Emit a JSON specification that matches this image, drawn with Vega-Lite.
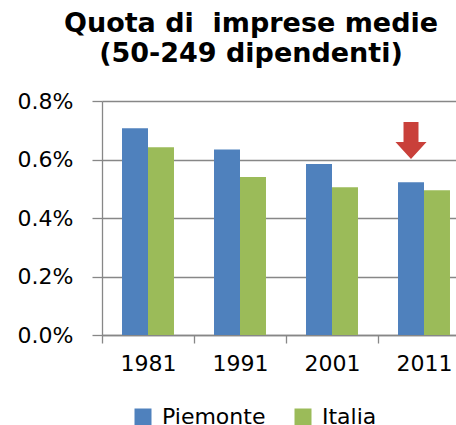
{
  "$schema": "https://vega.github.io/schema/vega-lite/v6.json",
  "autosize": "none",
  "width": 354,
  "height": 234,
  "padding": {"left": 102, "top": 101, "right": 0, "bottom": 90},
  "background": "white",
  "title": {
    "text": ["Quota di\u00a0 imprese medie", "(50-249 dipendenti)"],
    "font": "DejaVu Sans",
    "fontWeight": "bold",
    "fontSize": 27,
    "lineHeight": 30,
    "color": "#000000",
    "anchor": "middle",
    "dx": -28,
    "offset": 22
  },
  "config": {
    "view": {"stroke": null},
    "font": "DejaVu Sans"
  },
  "datasets": {
    "bars": [
      {"anno": "1981", "area": "Piemonte", "quota": 0.00707},
      {"anno": "1981", "area": "Italia", "quota": 0.00642},
      {"anno": "1991", "area": "Piemonte", "quota": 0.00634},
      {"anno": "1991", "area": "Italia", "quota": 0.0054},
      {"anno": "2001", "area": "Piemonte", "quota": 0.00585},
      {"anno": "2001", "area": "Italia", "quota": 0.00505},
      {"anno": "2011", "area": "Piemonte", "quota": 0.00522},
      {"anno": "2011", "area": "Italia", "quota": 0.00495}
    ],
    "arrow": [
      {"anno": "2011", "area": "Piemonte", "quota": 0.00665}
    ]
  },
  "layer": [
    {
      "data": {"name": "bars"},
      "mark": {"type": "bar"},
      "encoding": {
        "x": {
          "field": "anno",
          "type": "nominal",
          "scale": {"range": [0, 368], "paddingInner": 0.435, "paddingOuter": 0.2175},
          "axis": {
            "title": null,
            "labelAngle": 0,
            "labelFont": "DejaVu Sans",
            "labelFontSize": 22,
            "labelColor": "#000000",
            "labelPadding": 10,
            "labelOffset": 46,
            "domainColor": "#878787",
            "domainWidth": 1.3,
            "tickColor": "#878787",
            "tickWidth": 1.3,
            "tickSize": 8,
            "tickOffset": -46,
            "grid": false
          }
        },
        "xOffset": {"field": "area", "type": "nominal", "sort": ["Piemonte", "Italia"]},
        "y": {
          "field": "quota",
          "type": "quantitative",
          "scale": {"domain": [0, 0.008], "nice": false},
          "axis": {
            "title": null,
            "format": ".1%",
            "values": [0, 0.002, 0.004, 0.006, 0.008],
            "labelFont": "DejaVu Sans",
            "labelFontSize": 22,
            "labelColor": "#000000",
            "labelPadding": 19,
            "domainColor": "#878787",
            "domainWidth": 1.3,
            "tickColor": "#878787",
            "tickWidth": 1.3,
            "tickSize": 10,
            "grid": true,
            "gridColor": "#878787",
            "gridWidth": 1.3
          }
        },
        "color": {
          "field": "area",
          "type": "nominal",
          "scale": {"domain": ["Piemonte", "Italia"], "range": ["#4F81BD", "#9BBB59"]},
          "legend": {
            "title": null,
            "orient": "none",
            "direction": "horizontal",
            "legendX": 30,
            "legendY": 305,
            "symbolType": "square",
            "symbolSize": 289,
            "symbolStrokeWidth": 0,
            "labelFont": "DejaVu Sans",
            "labelFontSize": 22,
            "labelColor": "#000000",
            "labelOffset": 8,
            "columnPadding": 26
          }
        }
      }
    },
    {
      "data": {"name": "arrow"},
      "mark": {
        "type": "point",
        "shape": "M-0.405,-1L0.405,-1L0.405,0.08L0.84,0.08L0,1L-0.84,0.08L-0.405,0.08Z",
        "filled": true,
        "size": 1369,
        "color": "#C9403A",
        "opacity": 1
      },
      "encoding": {
        "x": {"field": "anno", "type": "nominal"},
        "xOffset": {"field": "area", "type": "nominal", "sort": ["Piemonte", "Italia"]},
        "y": {"field": "quota", "type": "quantitative"}
      }
    }
  ]
}
